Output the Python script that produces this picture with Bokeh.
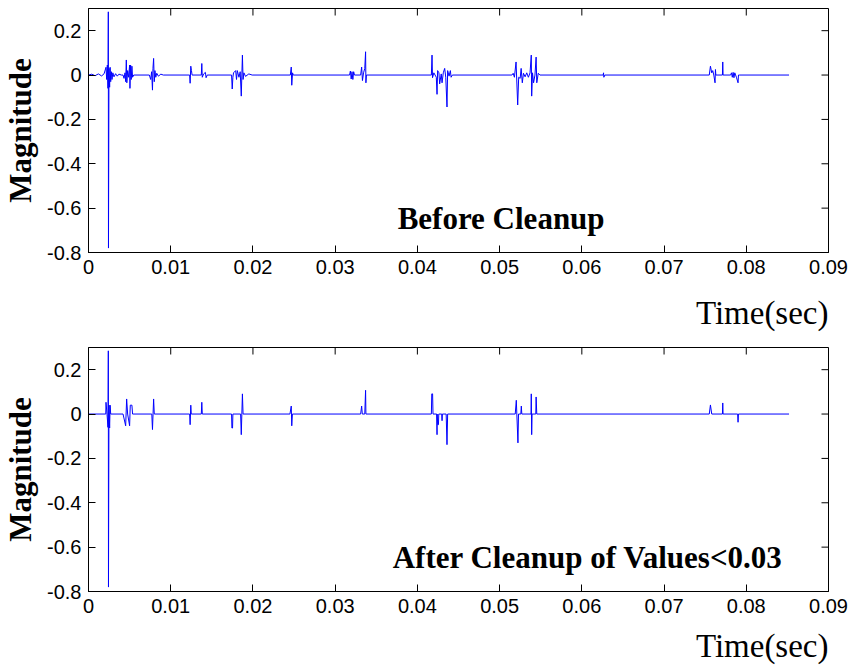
from bokeh.plotting import figure
from bokeh.layouts import column
from bokeh.models import FixedTicker, Range1d, Label, Title
from bokeh.embed import file_html
from bokeh.resources import INLINE

# ---------------- data ----------------
before_t = [0.0, 0.0004, 0.0008, 0.0012, 0.0016, 0.0019,
            0.00213, 0.00221, 0.00229, 0.00237, 0.00241, 0.00243, 0.00249, 0.00257, 0.00263, 0.00270,
            0.00278, 0.00286, 0.00296, 0.0031, 0.0033, 0.0035, 0.0037, 0.0040,
            0.0042, 0.00432, 0.00444, 0.00452, 0.00460, 0.00466, 0.00476, 0.00488, 0.00500, 0.00504,
            0.00512, 0.00520, 0.00528, 0.00536, 0.0055,
            0.0074, 0.00756, 0.00768, 0.00778, 0.00784, 0.00792, 0.00800, 0.00808, 0.00818, 0.00830,
            0.0085, 0.0088, 0.0091,
            0.0123, 0.01236, 0.01244, 0.01252, 0.0126,
            0.01372, 0.01378, 0.01384, 0.0140, 0.01422, 0.01430, 0.01444,
            0.0174, 0.01748, 0.01756, 0.01764, 0.01790, 0.01800, 0.01810, 0.01830, 0.01845, 0.01858,
            0.01872, 0.01880, 0.0189, 0.0191, 0.0195, 0.0199,
            0.02455, 0.02466, 0.02472, 0.02482, 0.0249,
            0.03175, 0.03185, 0.03195, 0.03205, 0.03215, 0.03225, 0.03235,
            0.0331, 0.03322, 0.03332, 0.03345, 0.03360, 0.03370, 0.03374, 0.0338,
            0.0417, 0.04178, 0.04184, 0.04200, 0.04230, 0.04239, 0.04246, 0.04262, 0.04271, 0.04290,
            0.04300, 0.04315, 0.04332, 0.04345, 0.04360, 0.04368, 0.04385, 0.04401, 0.0441, 0.04425,
            0.0515, 0.05165, 0.05180, 0.05200, 0.05220, 0.05232, 0.05250, 0.05262, 0.05276, 0.0529,
            0.0531, 0.0533, 0.0535, 0.0537, 0.05385, 0.05390, 0.05400, 0.05413, 0.0543, 0.05444,
            0.05452, 0.0547, 0.0549,
            0.0626, 0.06264, 0.06268, 0.0628,
            0.0755, 0.07564, 0.0758, 0.07592, 0.07605, 0.07620, 0.07625, 0.0763,
            0.0771, 0.07714, 0.07718,
            0.0781, 0.0782, 0.0783, 0.0784, 0.0785, 0.0786, 0.0788, 0.0790, 0.07905, 0.0792,
            0.0852]
before_mag = [0.0, 0.004, -0.003, 0.005, -0.004, 0.006,
              0.035, -0.02, 0.045, -0.06, 0.285, -0.78, 0.03, -0.055, 0.035, -0.03,
              0.015, -0.02, 0.01, -0.008, 0.006, -0.005, 0.004, 0.0,
              0.0, -0.015, 0.01, -0.03, 0.068, -0.035, 0.02, -0.01, 0.045, -0.06,
              0.045, -0.02, 0.04, -0.01, 0.0,
              0.0, -0.02, 0.015, -0.068, 0.03, 0.075, -0.03, 0.02, -0.01, 0.008,
              -0.005, 0.004, 0.0,
              0.0, -0.037, 0.04, 0.02, 0.0,
              0.0, 0.052, -0.01, 0.005, 0.012, -0.012, 0.0,
              0.0, -0.063, -0.01, 0.01, 0.02, -0.02, 0.02, -0.01, 0.015, -0.095,
              0.09, -0.02, 0.01, -0.006, 0.005, 0.0,
              0.0, 0.036, -0.046, 0.01, 0.0,
              0.0, 0.018, -0.018, 0.015, -0.02, 0.015, 0.0,
              0.0, 0.036, -0.025, 0.01, 0.03, 0.105, -0.035, 0.0,
              0.0, 0.09, -0.012, 0.01, -0.01, -0.087, 0.02, 0.01, -0.04, 0.005,
              -0.035, 0.01, 0.03, -0.01, -0.144, 0.02, -0.005, 0.02, -0.01, 0.0,
              0.0, 0.008, -0.01, 0.059, -0.135, -0.01, -0.015, 0.03, -0.035, 0.008,
              -0.008, 0.01, -0.01, 0.01, 0.09, -0.095, 0.01, -0.035, 0.0, 0.081,
              -0.035, 0.008, 0.0,
              0.0, 0.01, -0.01, 0.0,
              0.0, 0.04, 0.01, 0.02, 0.0, -0.035, 0.025, 0.0,
              0.0, 0.059, 0.0,
              0.0, 0.01, -0.01, 0.012, -0.012, 0.01, -0.01, -0.035, 0.0, 0.0,
              0.0]

after_t = [0.0, 0.0021, 0.00213, 0.00225, 0.00237, 0.00241, 0.00243, 0.00249, 0.00257, 0.00263, 0.0027,
           0.0042, 0.00452, 0.00464, 0.00476, 0.00500, 0.00508, 0.00528, 0.00536,
           0.0077, 0.00778, 0.00792, 0.0080,
           0.0123, 0.01236, 0.01244, 0.0125,
           0.01372, 0.01378, 0.01384,
           0.0174, 0.01744, 0.01752, 0.01756,
           0.0185, 0.01858, 0.01872, 0.0188,
           0.0245, 0.02466, 0.02472, 0.0248,
           0.0331, 0.03322, 0.0333, 0.0336, 0.0337, 0.03374,
           0.0417, 0.04175, 0.04185, 0.0419,
           0.04235, 0.04239, 0.0424, 0.04248, 0.04256, 0.0426,
           0.04296, 0.0430, 0.04304, 0.0435, 0.0436, 0.04368,
           0.0519, 0.05203, 0.05223, 0.0523, 0.05258, 0.05264, 0.0527,
           0.05382, 0.05385, 0.05390, 0.05395,
           0.0544, 0.05444, 0.05452,
           0.0755, 0.07564, 0.0758,
           0.0771, 0.07714, 0.07718,
           0.07895, 0.0790, 0.07905,
           0.0852]
after_mag = [0.0, 0.0, 0.053, 0.0, -0.06, 0.285, -0.78, 0.04, -0.063, 0.04, 0.0,
             0.0, -0.053, 0.068, 0.0, -0.053, 0.04, 0.04, 0.0,
             0.0, -0.07, 0.068, 0.0,
             0.0, -0.048, 0.04, 0.0,
             0.0, 0.053, 0.0,
             0.0, -0.063, -0.063, 0.0,
             0.0, -0.093, 0.091, 0.0,
             0.0, 0.036, -0.053, 0.0,
             0.0, 0.036, 0.0, 0.0, 0.107, 0.0,
             0.0, 0.091, 0.091, 0.0,
             0.0, -0.093, 0.0, -0.048, -0.048, 0.0,
             0.0, -0.03, 0.0, 0.0, -0.138, 0.0,
             0.0, 0.062, -0.13, 0.0, 0.0, 0.036, 0.0,
             0.0, 0.091, -0.093, 0.0,
             0.0, 0.077, 0.0,
             0.0, 0.041, 0.0,
             0.0, 0.05, 0.0,
             0.0, -0.037, 0.0,
             0.0]

x_ticks = [0, 0.01, 0.02, 0.03, 0.04, 0.05, 0.06, 0.07, 0.08, 0.09]
x_tick_labels = ["0", "0.01", "0.02", "0.03", "0.04", "0.05", "0.06", "0.07", "0.08", "0.09"]
y_ticks = [-0.8, -0.6, -0.4, -0.2, 0, 0.2]
y_tick_labels = ["-0.8", "-0.6", "-0.4", "-0.2", "0", "0.2"]
x_lim = (0, 0.09)
y_lim = (-0.8, 0.3)

titles = ["Before Cleanup", "After Cleanup of Values<0.03"]
note_pos = [(0.0376, -0.645), (0.0370, -0.645)]

SERIF = "Liberation Serif"
SANS = "Liberation Sans"
FW, FH = 740, 244
TICK = 7


def style_axis(ax, ticks, labels):
    ax.ticker = FixedTicker(ticks=ticks)
    ax.major_label_overrides = {t: l for t, l in zip(ticks, labels)}
    ax.major_tick_in = TICK
    ax.major_tick_out = 0
    ax.minor_tick_line_color = None
    ax.axis_line_color = "black"
    ax.major_tick_line_color = "black"
    ax.major_label_text_font = SANS
    ax.major_label_text_color = "black"
    ax.major_label_text_font_size = "20px"
    ax.major_label_standoff = 7


def make_panel(t, mag, note, pos, top_border, xlabel_gap):
    p = figure(frame_width=FW, frame_height=FH, output_backend="svg",
               toolbar_location=None, x_range=Range1d(*x_lim), y_range=Range1d(*y_lim),
               min_border_left=60, min_border_right=24, min_border_top=top_border,
               min_border_bottom=0)
    p.xgrid.visible = False
    p.ygrid.visible = False
    p.outline_line_color = "black"
    p.background_fill_color = "white"
    p.line(t, mag, line_color="#0000FF", line_width=1)

    style_axis(p.xaxis[0], x_ticks, x_tick_labels)
    style_axis(p.yaxis[0], y_ticks, y_tick_labels)
    p.yaxis[0].axis_label = "Magnitude"
    p.yaxis[0].axis_label_text_font = SERIF
    p.yaxis[0].axis_label_text_font_style = "bold"
    p.yaxis[0].axis_label_text_font_size = "31px"
    p.yaxis[0].axis_label_text_color = "black"
    p.yaxis[0].axis_label_standoff = 6

    # mirrored inward ticks on the top and right edges of the box
    dx = TICK * (x_lim[1] - x_lim[0]) / FW
    dy = TICK * (y_lim[1] - y_lim[0]) / FH
    p.segment(x0=x_ticks, y0=[y_lim[1]] * len(x_ticks), x1=x_ticks,
              y1=[y_lim[1] - dy] * len(x_ticks), line_color="black", line_width=1)
    p.segment(x0=[x_lim[1]] * len(y_ticks), y0=y_ticks, x1=[x_lim[1] - dx] * len(y_ticks),
              y1=y_ticks, line_color="black", line_width=1)

    p.add_layout(Title(text="Time(sec)", align="right", text_font=SERIF,
                       text_font_size="33px", text_font_style="normal",
                       text_color="black", standoff=xlabel_gap), "below")

    p.add_layout(Label(x=pos[0], y=pos[1], text=note, text_font=SERIF,
                       text_font_size="31px", text_font_style="bold",
                       text_color="black", text_align="left",
                       text_baseline="alphabetic"))
    return p


p1 = make_panel(before_t, before_mag, titles[0], note_pos[0], 8, 33)
p2 = make_panel(after_t, after_mag, titles[1], note_pos[1], 0, 21)

layout = column(p1, p2, spacing=0)
open("out.html", "w").write(file_html(layout, INLINE))
